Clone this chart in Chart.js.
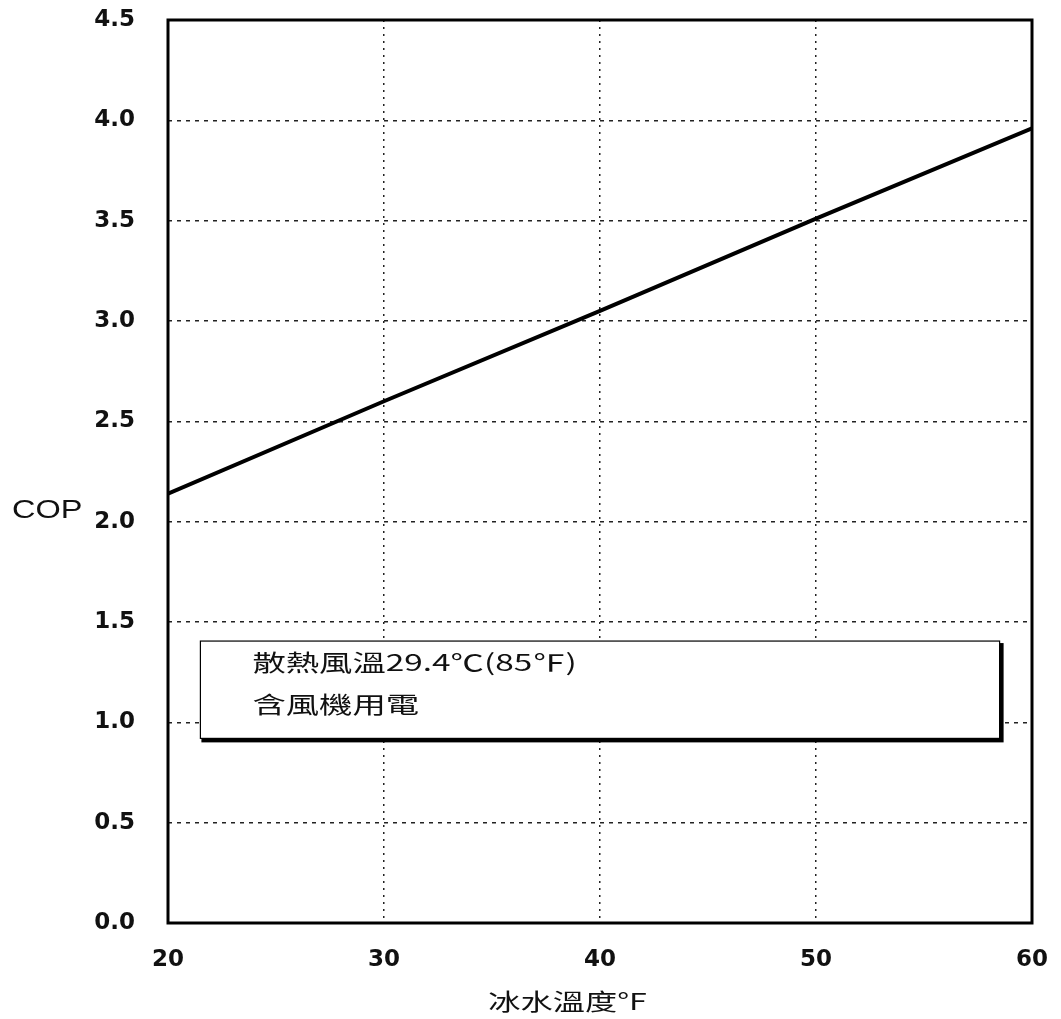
<!DOCTYPE html>
<html>
<head>
<meta charset="utf-8">
<script src="https://cdn.jsdelivr.net/npm/chart.js@4.4.1/dist/chart.umd.min.js"></script>
<style>
  html, body { margin: 0; padding: 0; background: #fff; }
  #wrap { width: 1061px; height: 1019px; }
</style>
</head>
<body>
<div id="wrap"><canvas id="c" width="1061" height="1019"></canvas></div>
<script>
// ---- data ----
const chilledWaterTempF = [20, 30, 40, 50, 60];
const copValues = [2.14, 2.60, 3.05, 3.51, 3.96];
const xTicks = [20, 30, 40, 50, 60];
const yTicks = [0, 0.5, 1.0, 1.5, 2.0, 2.5, 3.0, 3.5, 4.0, 4.5];
const yAxisTitle = 'COP';
const xAxisTitle = '冰水溫度°F';
const noteLines = ['散熱風溫29.4℃(85℉)', '含風機用電'];
// note box corners in data units (x: °F, y: COP)
const noteBox = { x0: 21.5, x1: 58.5, y0: 0.92, y1: 1.405 };

const points = chilledWaterTempF.map((x, i) => ({ x: x, y: copValues[i] }));

function drawStretched(ctx, text, x, y, font, sx, align) {
  ctx.save();
  ctx.font = font;
  ctx.textBaseline = 'middle';
  ctx.fillStyle = '#111';
  const w = ctx.measureText(text).width * sx;
  let left = x;
  if (align === 'center') left = x - w / 2;
  ctx.translate(left, y);
  ctx.scale(sx, 1);
  ctx.textAlign = 'left';
  ctx.fillText(text, 0, 0);
  ctx.restore();
}

const decor = {
  id: 'decor',
  afterDatasetsDraw(chart) {
    const ctx = chart.ctx;
    const a = chart.chartArea;
    const xs = chart.scales.x, ys = chart.scales.y;
    // frame
    ctx.save();
    ctx.strokeStyle = '#000';
    ctx.lineWidth = 3;
    ctx.strokeRect(a.left, a.top, a.right - a.left, a.bottom - a.top);
    ctx.restore();
    // note box
    const bl = xs.getPixelForValue(noteBox.x0);
    const br = xs.getPixelForValue(noteBox.x1);
    const bt = ys.getPixelForValue(noteBox.y1);
    const bb = ys.getPixelForValue(noteBox.y0);
    ctx.save();
    ctx.fillStyle = '#000';
    ctx.fillRect(bl + 1, bt + 2, br - bl + 3, bb - bt + 2);
    ctx.fillStyle = '#fff';
    ctx.fillRect(bl, bt, br - bl, bb - bt);
    ctx.strokeStyle = '#000';
    ctx.lineWidth = 1.2;
    ctx.strokeRect(bl, bt, br - bl, bb - bt);
    ctx.restore();
    const lh = (bb - bt);
    drawStretched(ctx, noteLines[0], bl + 52, bt + lh * 0.22, '23px "Noto Sans CJK TC"', 1.45, 'left');
    drawStretched(ctx, noteLines[1], bl + 52, bt + lh * 0.65, '23px "Noto Sans CJK TC"', 1.45, 'left');
    // axis titles
    drawStretched(ctx, yAxisTitle, 12, ys.getPixelForValue(2.0) - 11, '25px "Liberation Sans"', 1.3, 'left');
    drawStretched(ctx, xAxisTitle, xs.getPixelForValue(38.5), 1001, '23px "Noto Sans CJK TC"', 1.4, 'center');
  }
};

new Chart(document.getElementById('c'), {
  type: 'line',
  data: {
    datasets: [{
      data: points,
      borderColor: '#000',
      borderWidth: 4,
      pointRadius: 0,
      fill: false,
      tension: 0
    }]
  },
  options: {
    responsive: false,
    animation: false,
    devicePixelRatio: 1,
    layout: { padding: { top: 20, right: 29, bottom: 0, left: 0 } },
    plugins: { legend: { display: false }, tooltip: { enabled: false } },
    scales: {
      x: {
        type: 'linear',
        min: 20, max: 60,
        afterBuildTicks(scale) { scale.ticks = xTicks.map(v => ({ value: v })); },
        afterFit(scale) { scale.height = 96; scale.paddingLeft = 0; scale.paddingRight = 0; },
        grid: { color: '#222', lineWidth: 1.5, drawTicks: false },
        border: { display: false, dash: [2, 5] },
        ticks: {
          color: '#111', padding: 23,
          font: { family: 'DejaVu Sans', weight: 'bold', size: 23 },
          callback: v => String(v)
        }
      },
      y: {
        min: 0, max: 4.5,
        afterBuildTicks(scale) { scale.ticks = yTicks.map(v => ({ value: v })); },
        afterFit(scale) { scale.width = 168; scale.paddingTop = 0; scale.paddingBottom = 0; },
        grid: { color: '#222', lineWidth: 1.5, drawTicks: false },
        border: { display: false, dash: [4, 5] },
        ticks: {
          color: '#111', padding: 33,
          font: { family: 'DejaVu Sans', weight: 'bold', size: 23 },
          callback: v => Number(v).toFixed(1)
        }
      }
    }
  },
  plugins: [decor]
});
</script>
</body>
</html>
